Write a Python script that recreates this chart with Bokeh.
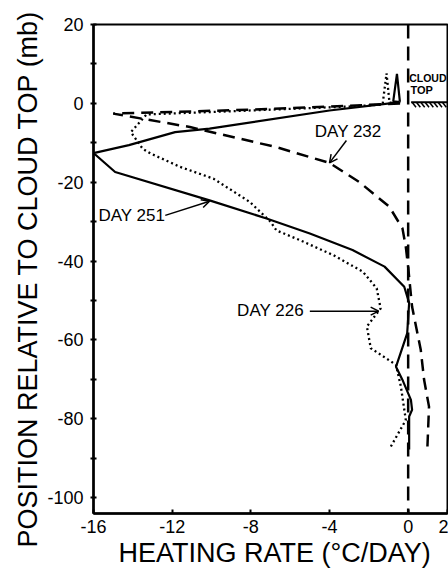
from bokeh.plotting import figure
from bokeh.models import Span, Label, Arrow, OpenHead, FixedTicker, Range1d, Title
from bokeh.embed import file_html
from bokeh.resources import INLINE
import numpy as np

FONT = "Liberation Sans"

# --- data ---
day251_x = [0.05, 0.05, 0.2, 0.14, -0.3, -0.62, -0.05, 0.05, -0.2, -1.2, -2.83, -5.0, -7.2, -10.1,
            -14.9, -16.0, -14.2, -11.85, -10.1, -4.0, -0.4, -0.76, -0.57, -0.42]
day251_y = [-87.8, -79.4, -77.7, -75.2, -70.0, -66.8, -58.3, -50.6, -46.5, -41.4, -37.2, -33.0, -29.2, -24.6,
            -17.4, -12.6, -10.6, -7.3, -6.4, -1.8, 0.3, 0.5, 7.5, 0.4]

day226_x = [-0.88, -0.12, -0.37, -0.62, -1.9, -2.1, -1.4, -1.6, -2.3, -3.8, -5.5, -6.7, -7.0, -8.05,
            -9.9, -11.6, -13.1, -13.5, -14.1, -13.3, -8.0, -3.0, -1.3, -1.1, -0.95, -0.5]
day226_y = [-87.0, -80.3, -71.8, -66.3, -62.1, -56.6, -52.0, -46.9, -42.7, -38.5, -34.7, -32.2, -30.0, -25.0,
            -19.1, -16.1, -12.7, -11.5, -7.3, -2.8, -1.8, -0.8, -0.3, 7.6, 0.2, 0.2]

day232_x = [0.98, 1.06, 0.81, 0.64, 0.2, 0.0, -0.12, -0.29, -0.96, -2.5, -4.0, -6.7, -11.1, -15.0,
            -8.0, -3.0, -0.3]
day232_y = [-87.0, -76.9, -70.1, -62.5, -51.6, -41.5, -36.4, -31.7, -26.2, -19.9, -15.1, -11.1, -6.0, -2.6,
            -1.6, -0.6, 0.0]

x_ticks = [-16, -12, -8, -4, 0, 2]
x_tick_labels = ["-16", "-12", "-8", "-4", "0", "2"]
y_ticks = [-100, -80, -60, -40, -20, 0, 20]
y_tick_labels = ["-100", "-80", "-60", "-40", "-20", "0", "20"]
y_minor = [-90, -70, -50, -30, -10, 10]
x_title = "HEATING RATE  (°C/DAY)"
y_title = "POSITION RELATIVE TO CLOUD TOP (mb)"

p = figure(width=448, height=579, output_backend="svg", toolbar_location=None,
           x_range=Range1d(-16, 2.0), y_range=Range1d(-104, 20),
           min_border_left=93, min_border_right=1, min_border_top=24, min_border_bottom=66)
p.background_fill_color = "white"
p.border_fill_color = "white"
p.grid.visible = False
p.outline_line_color = "black"
p.outline_line_width = 2

# axes
xa = p.xaxis[0]
xa.ticker = FixedTicker(ticks=x_ticks, minor_ticks=[])
xa.major_label_overrides = {t: l for t, l in zip(x_ticks, x_tick_labels)}
xa.major_tick_in = 4
xa.major_tick_out = 0
xa.minor_tick_in = 0
xa.minor_tick_out = 0

ya = p.yaxis[0]
ya.ticker = FixedTicker(ticks=y_ticks, minor_ticks=y_minor)
ya.major_label_overrides = {t: l for t, l in zip(y_ticks, y_tick_labels)}
ya.major_tick_in = 3
ya.major_tick_out = 3
ya.minor_tick_in = 3
ya.minor_tick_out = 3

for ax in (xa, ya):
    ax.axis_line_width = 2.5
    ax.axis_line_color = "black"
    ax.major_tick_line_width = 2
    ax.minor_tick_line_width = 2
    ax.major_label_text_font = FONT
    ax.major_label_text_font_size = "18px"
    ax.major_label_text_color = "black"
xa.major_label_standoff = 6
ya.major_label_standoff = 7

# axis titles as side titles (allow offsets)
p.add_layout(Title(text=x_title, align="left", offset=25, standoff=0,
                   text_font=FONT, text_font_size="27px", text_font_style="normal",
                   text_color="black"), "below")
p.add_layout(Title(text=y_title, align="left", offset=-34, standoff=3,
                   text_font=FONT, text_font_size="27px", text_font_style="normal",
                   text_color="black"), "left")

# vertical reference line at zero
p.add_layout(Span(location=0, dimension="height", line_color="black", line_width=2.5, line_dash="14 8"))

# series
p.line(day251_x, day251_y, line_color="black", line_width=2.2)
p.line(day232_x, day232_y, line_color="black", line_width=2.5, line_dash="12 7")
p.line(day226_x, day226_y, line_color="black", line_width=2.3, line_dash="2 3")

# cloud top ground hatch
hx = np.arange(0.2, 1.9, 0.22)
p.segment(x0=[0.15], y0=[0.3], x1=[2.0], y1=[0.3], line_color="black", line_width=2)
p.segment(x0=hx, y0=np.full_like(hx, 0.3), x1=hx + 0.2, y1=np.full_like(hx, -1.0),
          line_color="black", line_width=1.5)

def lab(x, y, text, size="16px", style="normal", align="center", baseline="middle"):
    p.add_layout(Label(x=x, y=y, text=text, text_font=FONT, text_font_size=size,
                       text_font_style=style, text_align=align, text_baseline=baseline,
                       text_color="black"))

lab(-3.05, -7.2, "DAY 232", size="17px")
lab(-14.05, -28.4, "DAY 251", size="17px")
lab(-7.0, -52.6, "DAY 226", size="17px")
lab(0.05, 6.5, "CLOUD", size="10.5px", style="bold", align="left")
lab(0.12, 3.5, "TOP", size="11px", style="bold", align="left")

# leader arrows
p.add_layout(Arrow(end=OpenHead(size=8, line_width=1.5), x_start=-3.14, y_start=-9.4,
                   x_end=-4.0, y_end=-15.1, line_width=1.5))
p.add_layout(Arrow(end=OpenHead(size=8, line_width=1.5), x_start=-12.35, y_start=-28.4,
                   x_end=-10.1, y_end=-24.8, line_width=1.5))
p.add_layout(Arrow(end=OpenHead(size=8, line_width=1.5), x_start=-5.0, y_start=-52.7,
                   x_end=-1.5, y_end=-52.7, line_width=1.5))

open("out.html", "w").write(file_html(p, INLINE))
